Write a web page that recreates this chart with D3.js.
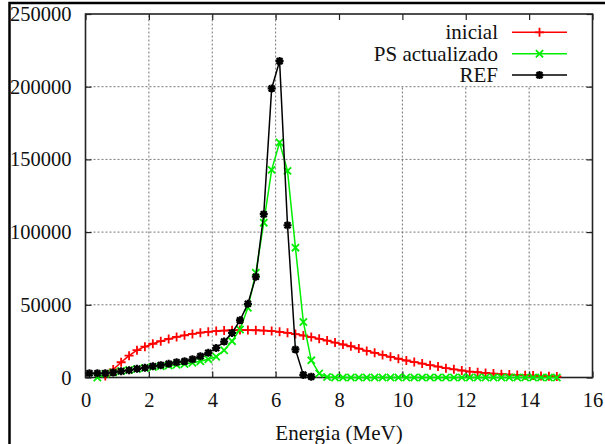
<!DOCTYPE html>
<html>
<head>
<meta charset="utf-8">
<script src="https://cdn.jsdelivr.net/npm/d3@7"></script>
<style>
  body { margin: 0; background: #fff; }
</style>
</head>
<body>
<div id="chart"></div>
<script>
// bin centres (MeV)
var energia = d3.range(60).map(function(i){ return 0.125 + i*0.25; });

// inicial: bins 0.625 .. 14.875
var inicialE = energia.slice(2);
var inicial = [1000, 5500, 10500, 15000, 18800, 21200, 23200, 25000, 26500, 27900,
  29000, 30000, 30800, 31400, 31900, 32300, 32500, 32600, 32600, 32500,
  32300, 31900, 31400, 30700, 29900, 28900, 27800, 26600, 25400, 24000,
  22700, 21500, 19900, 18300, 17000, 15500, 14200, 12900, 11700, 10600,
  9600, 8500, 7500, 6400, 5600, 4800, 4100, 3600, 3100, 2700,
  2300, 2000, 1700, 1500, 1300, 1100, 900, 700];

// PS actualizado: bins 0.375 .. 14.875
var psE = energia.slice(1);
var psActualizado = [0, 2500, 3500, 4500, 5200, 5800, 6500, 7200, 7800, 8300,
  8700, 9300, 10100, 11200, 12500, 14300, 18700, 25000, 33000, 48000,
  72000, 106500, 142800, 161600, 142100, 89300, 38200, 11800, 2800, 300,
  0, 0, 0, 0, 0, 0, 0, 0, 0, 0, 0, 0, 0, 0, 0, 0, 0, 0, 0, 0,
  0, 0, 0, 0, 0, 0, 0, 0, 0];

// REF: bins 0.125 .. 7.125
var refE = energia.slice(0, 29);
var ref = [2900, 2900, 2900, 3500, 4300, 5000, 6000, 6700, 7800, 8500,
  9400, 10500, 11100, 12500, 14600, 17000, 20300, 24700, 30600, 39300,
  50700, 69300, 112300, 198800, 217600, 104700, 19300, 1800, 600];

var xTicks = [0, 2, 4, 6, 8, 10, 12, 14, 16];
var yTicks = [0, 50000, 100000, 150000, 200000, 250000];
var legendNames = ["inicial", "PS actualizado", "REF"];
var colors = ["#ff0000", "#00ee00", "#000000"];
var markers = ["plus", "cross", "star"];

var W = 605, H = 444;
var FONT = "'Liberation Serif'";
var x = d3.scaleLinear().domain([0, 16]).range([85.5, 592.5]);
var y = d3.scaleLinear().domain([0, 250000]).range([377.5, 14]);

var svg = d3.select("#chart").append("svg")
  .attr("width", W).attr("height", H);

// outer page frame (top and left visible)
svg.append("path")
  .attr("d", "M9.5," + (H + 10) + "V3H" + (W + 10))
  .attr("fill", "none").attr("stroke", "#000").attr("stroke-width", 2.5);

// grid
var grid = svg.append("g");
grid.selectAll(".gx").data(xTicks.slice(1, -1)).enter().append("line")
  .attr("x1", function(d){ return x(d); }).attr("x2", function(d){ return x(d); })
  .attr("y1", y(0)).attr("y2", y(250000));
grid.selectAll(".gy").data(yTicks.slice(1, -1)).enter().append("line")
  .attr("x1", x(0)).attr("x2", x(16))
  .attr("y1", function(d){ return y(d); }).attr("y2", function(d){ return y(d); });
grid.selectAll("line")
  .attr("stroke", "#666").attr("stroke-width", 0.9).attr("stroke-dasharray", "2,2");

// key area clears the grid
svg.append("rect")
  .attr("x", 330).attr("y", y(250000)).attr("width", x(16) - 330).attr("height", 72)
  .attr("fill", "#fff");

// axes with inward ticks
var fmt = d3.format("d");
var axB = svg.append("g").attr("transform", "translate(0," + y(0) + ")")
  .call(d3.axisBottom(x).tickValues(xTicks).tickFormat(fmt).tickSizeInner(-6).tickSizeOuter(0).tickPadding(15));
var axT = svg.append("g").attr("transform", "translate(0," + y(250000) + ")")
  .call(d3.axisTop(x).tickValues(xTicks).tickFormat("").tickSizeInner(-6).tickSizeOuter(0));
var axL = svg.append("g").attr("transform", "translate(" + x(0) + ",0)")
  .call(d3.axisLeft(y).tickValues(yTicks).tickFormat(fmt).tickSizeInner(-6).tickSizeOuter(0).tickPadding(14));
var axR = svg.append("g").attr("transform", "translate(" + x(16) + ",0)")
  .call(d3.axisRight(y).tickValues(yTicks).tickFormat("").tickSizeInner(-6).tickSizeOuter(0));
[axB, axT, axL, axR].forEach(function(a){
  a.attr("font-family", null).attr("font-size", null);
  a.select(".domain").remove();
  a.selectAll(".tick line").attr("stroke", "#222").attr("stroke-width", 1.2);
  a.selectAll("text").style("font-family", FONT).style("font-size", "20.5px").attr("fill", "#111");
});

// plot border
svg.append("rect")
  .attr("x", x(0)).attr("y", y(250000))
  .attr("width", x(16) - x(0)).attr("height", y(0) - y(250000))
  .attr("fill", "none").attr("stroke", "#222").attr("stroke-width", 1.6);

// axis title
svg.append("text")
  .attr("x", (x(0) + x(16)) / 2).attr("y", 440)
  .attr("text-anchor", "middle")
  .style("font-family", FONT).style("font-size", "21px").attr("fill", "#111")
  .text("Energia (MeV)");

function markerPath(type, s){
  if (type == "plus") return "M" + (-s) + ",0H" + s + "M0," + (-s) + "V" + s;
  if (type == "cross") return "M" + (-s) + "," + (-s) + "L" + s + "," + s + "M" + (-s) + "," + s + "L" + s + "," + (-s);
  var t = s * 0.75;
  return "M" + (-s) + ",0H" + s + "M0," + (-s) + "V" + s +
    "M" + (-t) + "," + (-t) + "L" + t + "," + t + "M" + (-t) + "," + t + "L" + t + "," + (-t);
}

var series = [
  { e: inicialE, v: inicial },
  { e: psE, v: psActualizado },
  { e: refE, v: ref }
];
var sizes = [4.5, 3.6, 4];
var line = d3.line().x(function(d){ return x(d[0]); }).y(function(d){ return y(d[1]); });

series.forEach(function(s, k){
  var pts = s.e.map(function(e, i){ return [e, s.v[i]]; });
  var g = svg.append("g");
  g.append("path").datum(pts).attr("d", line)
    .attr("fill", "none").attr("stroke", colors[k]).attr("stroke-width", 1.5);
  g.selectAll("path.m").data(pts).enter().append("path")
    .attr("class", "m")
    .attr("transform", function(d){ return "translate(" + x(d[0]) + "," + y(d[1]) + ")"; })
    .attr("d", markerPath(markers[k], sizes[k]))
    .attr("fill", "none").attr("stroke", colors[k]).attr("stroke-width", k == 2 ? 2.2 : 1.8);
});

// legend
var legend = svg.append("g");
legendNames.forEach(function(name, i){
  var cy = 32.3 + i * 21.4;
  legend.append("text").attr("x", 498).attr("y", cy + 7)
    .attr("text-anchor", "end")
    .style("font-family", FONT).style("font-size", "21px")
    .attr("fill", "#111").text(name);
  legend.append("line").attr("x1", 512).attr("x2", 567).attr("y1", cy).attr("y2", cy)
    .attr("stroke", colors[i]).attr("stroke-width", 1.5);
  legend.append("path").attr("transform", "translate(539.5," + cy + ")")
    .attr("d", markerPath(markers[i], sizes[i]))
    .attr("fill", "none").attr("stroke", colors[i]).attr("stroke-width", i == 2 ? 2.2 : 1.8);
});
</script>
</body>
</html>
